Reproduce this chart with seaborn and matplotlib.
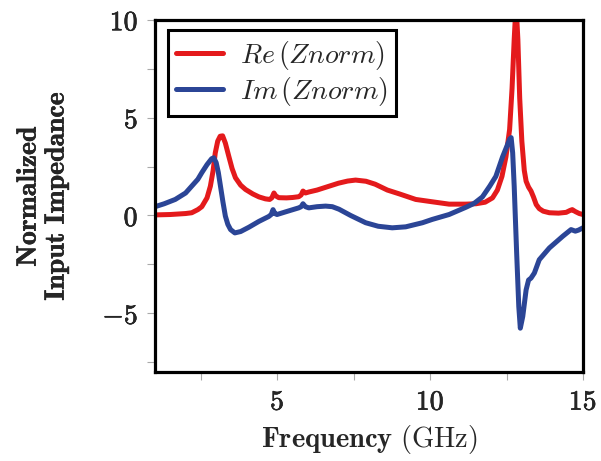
import numpy as np
import pandas as pd
import matplotlib
matplotlib.use('Agg')
import matplotlib.pyplot as plt
import matplotlib.patheffects as pe
import seaborn as sns
from matplotlib.ticker import FuncFormatter, MultipleLocator

# values (frequency in GHz)
freq_re = [1.0, 1.5, 2.0, 2.2, 2.4, 2.53, 2.7, 2.81, 2.9, 2.97, 3.05, 3.13, 3.21,
           3.3, 3.41, 3.52, 3.63, 3.8, 3.96, 4.2, 4.4, 4.61, 4.75, 4.82, 4.89,
           4.95, 5.05, 5.3, 5.5, 5.7, 5.78, 5.84, 5.92, 6.03, 6.3, 6.6, 7.0, 7.3,
           7.56, 7.9, 8.2, 8.6, 9.0, 9.53, 10.07, 10.62, 11.17, 11.5, 11.8, 12.04,
           12.2, 12.35, 12.48, 12.6, 12.68, 12.75, 12.81, 12.87, 12.93, 13.0,
           13.08, 13.14, 13.22, 13.3, 13.38, 13.47, 13.57, 13.7, 13.9, 14.2,
           14.45, 14.58, 14.65, 14.75, 14.88, 15.0]
re_vals = [0.03, 0.05, 0.1, 0.14, 0.3, 0.45, 0.9, 1.5, 2.3, 3.2, 3.8, 4.05, 4.07,
           3.7, 3.04, 2.4, 1.93, 1.55, 1.33, 1.1, 0.95, 0.85, 0.82, 0.9, 1.15,
           1.0, 0.91, 0.9, 0.92, 0.96, 1.05, 1.25, 1.15, 1.2, 1.3, 1.45, 1.65, 1.76,
           1.81, 1.75, 1.6, 1.3, 1.1, 0.82, 0.7, 0.58, 0.58, 0.6, 0.68, 0.9,
           1.3, 2.0, 3.0, 4.4, 6.5, 9.0, 10.8, 9.0, 6.0, 3.8,
           2.3, 1.75, 1.45, 1.25, 0.95, 0.56, 0.35, 0.22, 0.14, 0.12,
           0.16, 0.26, 0.3, 0.2, 0.1, 0.05]

freq_im = [1.0, 1.3, 1.66, 2.0, 2.2, 2.4, 2.53, 2.7, 2.85, 2.92, 3.0, 3.07, 3.14,
           3.22, 3.3, 3.38, 3.47, 3.61, 3.8, 4.07, 4.4, 4.72, 4.8, 4.86, 4.92,
           4.99, 5.3, 5.7, 5.78, 5.84, 5.92, 6.03, 6.3, 6.58, 6.8, 7.02, 7.4,
           7.89, 8.3, 8.76, 9.2, 9.75, 10.07, 10.62, 11.17, 11.44, 11.71, 11.95,
           12.15, 12.37, 12.5, 12.6, 12.65, 12.7, 12.75, 12.83, 12.9, 12.95,
           13.03, 13.14, 13.22, 13.3, 13.41, 13.57, 13.9, 14.34, 14.61, 14.75,
           14.85, 15.0]
im_vals = [0.45, 0.6, 0.82, 1.15, 1.5, 1.85, 2.19, 2.6, 2.9, 2.95, 2.7, 2.2, 1.5,
           0.7, -0.03, -0.45, -0.72, -0.89, -0.82, -0.6, -0.3, -0.05, 0.05, 0.3, 0.1,
           0.05, 0.2, 0.39, 0.45, 0.6, 0.45, 0.39, 0.45, 0.48, 0.45, 0.32, 0.0,
           -0.37, -0.55, -0.63, -0.58, -0.37, -0.2, 0.05, 0.42, 0.62, 0.95, 1.5,
           2.0, 3.0, 3.5, 3.9, 3.98, 3.2, 1.5, -1.9, -4.65, -5.76,
           -5.16, -3.8, -3.3, -3.2, -2.94, -2.26, -1.66, -1.06, -0.72, -0.8,
           -0.75, -0.63]

labels = [r'$Re\,(Znorm)$', r'$Im\,(Znorm)$']
colors = ['#E41A1C', '#2B4596']

df = pd.concat([
    pd.DataFrame({'freq': freq_re, 'z': re_vals, 'part': labels[0]}),
    pd.DataFrame({'freq': freq_im, 'z': im_vals, 'part': labels[1]}),
])

sns.set_theme(style='ticks')
plt.rcParams['mathtext.fontset'] = 'cm'
plt.rcParams['font.family'] = ['DejaVu Serif']

fig = plt.figure(figsize=(6.01, 4.61), dpi=100)
ax = fig.add_axes([0.258, 0.193, 0.712, 0.764])

sns.lineplot(data=df, x='freq', y='z', hue='part', palette=colors,
             linewidth=3.6, ax=ax, estimator=None)

ax.set_xlim(1, 15)
ax.set_ylim(-8, 10)
ax.xaxis.set_major_locator(MultipleLocator(5))
ax.xaxis.set_minor_locator(MultipleLocator(2.5))
ax.yaxis.set_major_locator(MultipleLocator(5))
ax.yaxis.set_minor_locator(MultipleLocator(2.5))
fmt = FuncFormatter(lambda v, p: r'$\mathbf{%g}$' % v)
ax.xaxis.set_major_formatter(fmt)
ax.yaxis.set_major_formatter(fmt)
ax.tick_params(which='both', direction='out', length=6, width=0.8,
               color='#aaaaaa', labelsize=20, pad=6)

# a light stroke to get closer to the heavier bold of the original
bold = [pe.withStroke(linewidth=0.4, foreground='black')]
for t in ax.get_xticklabels() + ax.get_yticklabels():
    t.set_path_effects(bold)

for s in ax.spines.values():
    s.set_visible(True)
    s.set_linewidth(2.3)
    s.set_color('black')

ax.set_xlabel(r'$\mathbf{Frequency}\ (\mathrm{GHz})$', fontsize=20.5, labelpad=5)
yl = ax.set_ylabel('$\\mathbf{Normalized}$\n$\\mathbf{Input\\ Impedance}$',
                   fontsize=20, labelpad=22, linespacing=1.0)
yl.set_path_effects([pe.withStroke(linewidth=0.3, foreground='black')])

leg = ax.legend(loc='upper left', bbox_to_anchor=(0.03, 0.97), borderaxespad=0,
                frameon=True, fancybox=False, edgecolor='black', framealpha=1,
                fontsize=20, handlelength=1.7, borderpad=0.3, labelspacing=0.12,
                handletextpad=0.6)
leg.get_frame().set_linewidth(2.2)

fig.savefig('out.png', dpi=100)
